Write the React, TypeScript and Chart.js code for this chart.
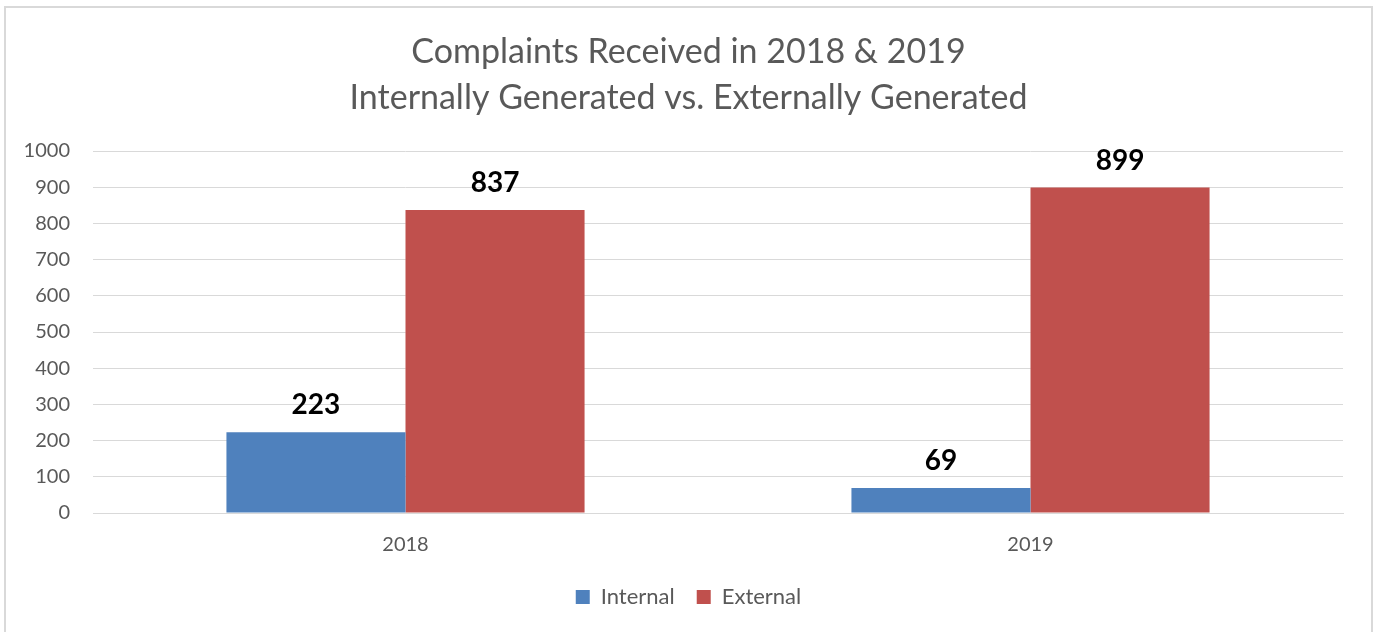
import React, { useEffect, useRef } from "react";
import { Chart, registerables } from "chart.js";

Chart.register(...registerables);

const categories = ["2018", "2019"];
const internalValues = [223, 69];
const externalValues = [837, 899];
const seriesNames = ["Internal", "External"];
const titleLines = ["Complaints Received in 2018 & 2019", "Internally Generated vs. Externally Generated"];

const FONT = "Lato, 'Open Sans', sans-serif";

const valueLabels = {
  id: "valueLabels",
  afterDatasetsDraw(chart: any) {
    const ctx = chart.ctx;
    ctx.save();
    ctx.font = `bold 28px ${FONT}`;
    ctx.fillStyle = "#000000";
    ctx.textAlign = "center";
    ctx.textBaseline = "alphabetic";
    chart.data.datasets.forEach((ds: any, di: number) => {
      const meta = chart.getDatasetMeta(di);
      meta.data.forEach((bar: any, i: number) => {
        ctx.fillText(String(ds.data[i]), bar.x, bar.y - 18);
      });
    });
    ctx.restore();
  },
};

export default function App() {
  const ref = useRef<HTMLCanvasElement>(null);
  useEffect(() => {
    if (!ref.current) return;
    const chart = new Chart(ref.current, {
      type: "bar",
      data: {
        labels: categories,
        datasets: [
          { label: seriesNames[0], data: internalValues, backgroundColor: "#4F81BD", yAxisID: "y" },
          { label: seriesNames[1], data: externalValues, backgroundColor: "#C0504D", yAxisID: "y" },
        ],
      },
      options: {
        animation: false,
        responsive: false,
        layout: { padding: { left: 0, right: 0, top: 0, bottom: 14 } },
        datasets: { bar: { categoryPercentage: 0.573, barPercentage: 1 } },
        plugins: {
          title: {
            display: true,
            text: titleLines,
            color: "#595959",
            font: { family: FONT, size: 34, weight: "normal", lineHeight: 46 / 34 },
            padding: { top: 29, bottom: 30 },
          },
          legend: {
            position: "bottom",
            labels: {
              color: "#595959",
              font: { family: FONT, size: 22 },
              boxWidth: 14,
              boxHeight: 14,
              padding: 22,
            },
          },
          tooltip: { enabled: false },
        },
        scales: {
          x: {
            grid: { display: false, drawTicks: false },
            border: { display: true, color: "#d9d9d9", width: 1 },
            ticks: { color: "#595959", font: { family: FONT, size: 20 }, padding: 20 },
            afterFit: (scale: any) => {
              scale.height = 51;
            },
          },
          y: {
            min: 0,
            max: 1000,
            ticks: {
              stepSize: 100,
              color: "#595959",
              font: { family: FONT, size: 20 },
              padding: 23,
              callback: (v: any) => String(v),
            },
            grid: { color: "#d9d9d9", lineWidth: 1, drawTicks: false },
            border: { display: false },
            afterFit: (scale: any) => {
              scale.width = 93;
            },
          },
          yRight: {
            type: "linear",
            position: "right",
            display: true,
            grid: { display: false, drawTicks: false },
            border: { display: false },
            ticks: { display: false },
            afterFit: (scale: any) => {
              scale.width = 34;
            },
          },
        },
      },
      plugins: [valueLabels],
    });
    return () => chart.destroy();
  }, []);
  return (
    <div style={{ position: "absolute", left: 0, top: 0, width: 1377, height: 632, background: "#fff", overflow: "hidden" }}>
      <canvas ref={ref} width={1377} height={632} style={{ position: "absolute", left: 0, top: 0 }} />
      <div
        style={{
          position: "absolute",
          left: 4,
          top: 6,
          width: 1369,
          height: 700,
          border: "2px solid #d9d9d9",
          boxSizing: "border-box",
          pointerEvents: "none",
        }}
      />
    </div>
  );
}
